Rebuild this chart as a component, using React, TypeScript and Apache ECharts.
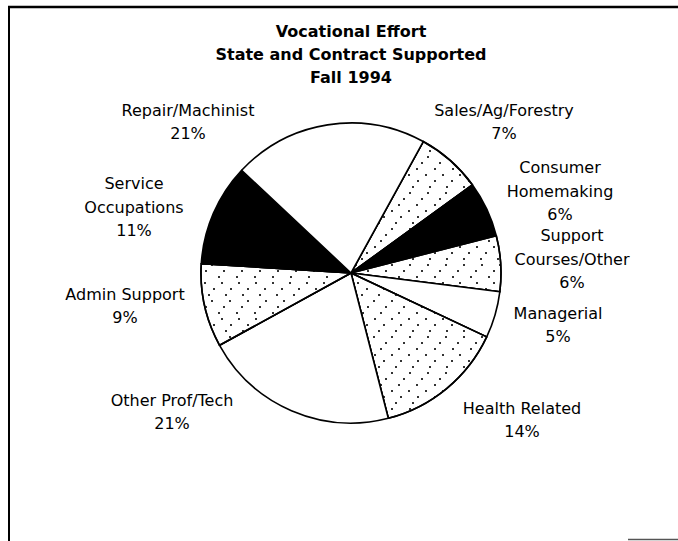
import React, { useEffect, useRef } from "react";
import * as echarts from "echarts";

const titleLines = ["Vocational Effort", "State and Contract Supported", "Fall 1994"];
const categories = [
  "Sales/Ag/Forestry",
  "Consumer\nHomemaking",
  "Support\nCourses/Other",
  "Managerial",
  "Health Related",
  "Other Prof/Tech",
  "Admin Support",
  "Service\nOccupations",
  "Repair/Machinist",
];
const percents = [7, 6, 6, 5, 14, 21, 9, 11, 21];
const fills = ["dots", "black", "dots", "white", "dots", "white", "dots", "black", "white"];

// label block centres, relative to the pie centre (layout only)
const labelOffsets = [
  [153, -151],
  [209, -82],
  [221, -14],
  [207, 52],
  [171, 147],
  [-179, 139],
  [-226, 33],
  [-217, -66],
  [-163, -151],
];

const CX = 351;
const CY = 273;
const FONT = "DejaVu Sans";

const stipple = {
  symbol: "rect",
  symbolSize: 1,
  color: "#333",
  dashArrayX: [
    [1.2, 14.8],
    [0, 9, 1.2, 5.8],
    [0, 4, 1.2, 10.8],
    [0, 12.5, 1.2, 2.3],
    [0, 6.5, 1.2, 8.3],
    [0, 1.5, 1.2, 13.3],
  ],
  dashArrayY: [1.2, 3.2],
  rotation: 0,
};

function itemStyleFor(kind: string) {
  if (kind === "black") return { color: "#000" };
  if (kind === "dots") return { color: "#fff", decal: stipple };
  return { color: "#fff" };
}

export default function App() {
  const ref = useRef<HTMLDivElement>(null);
  useEffect(() => {
    if (!ref.current) return;
    const chart = echarts.init(ref.current, undefined, { renderer: "svg" });
    chart.setOption({
      animation: false,
      backgroundColor: "#fff",
      title: {
        text: titleLines.join("\n"),
        left: 346,
        textAlign: "center",
        top: 15,
        textStyle: {
          fontFamily: FONT,
          fontWeight: "bold",
          fontSize: 16,
          lineHeight: 23,
          color: "#000",
        },
      },
      graphic: [
        { type: "line", shape: { x1: 8, y1: 7, x2: 678, y2: 7 }, style: { stroke: "#000", lineWidth: 2.5 } },
        { type: "line", shape: { x1: 9, y1: 7, x2: 9, y2: 541 }, style: { stroke: "#000", lineWidth: 2 } },
        { type: "line", shape: { x1: 628, y1: 539.5, x2: 678, y2: 539.5 }, style: { stroke: "#555", lineWidth: 1.5 } },
      ],
      series: [
        {
          type: "pie",
          center: [CX, CY],
          radius: [0, 150],
          startAngle: 61.2,
          clockwise: true,
          avoidLabelOverlap: false,
          silent: true,
          data: categories.map((name, i) => ({
            name,
            value: percents[i],
            itemStyle: itemStyleFor(fills[i]),
          })),
          itemStyle: { borderColor: "#000", borderWidth: 1.6 },
          label: {
            show: true,
            position: "outside",
            formatter: (p: any) => `${p.name}\n${p.value}%`,
            fontFamily: FONT,
            fontSize: 16,
            lineHeight: 23.5,
            color: "#000",
            align: "center",
          },
          labelLine: { show: false },
          labelLayout: (params: any) => {
            const o = labelOffsets[params.dataIndex];
            return {
              x: CX + o[0],
              y: CY + o[1],
              align: "center",
              verticalAlign: "middle",
            };
          },
        },
      ],
    });
    return () => chart.dispose();
  }, []);
  return (
    <div
      ref={ref}
      style={{ position: "fixed", left: 0, top: 0, width: 678, height: 541 }}
    />
  );
}
